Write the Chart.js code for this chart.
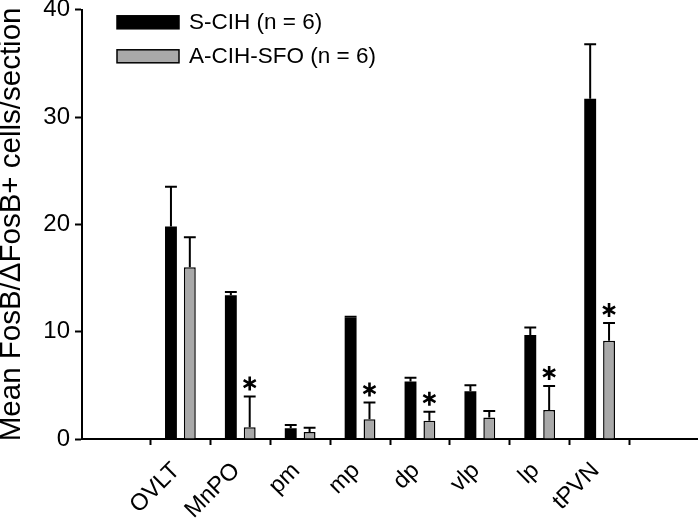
<!DOCTYPE html>
<html>
<head>
<meta charset="utf-8">
<script src="https://cdn.jsdelivr.net/npm/chart.js@4/dist/chart.umd.min.js"></script>
<style>
  html, body { margin: 0; padding: 0; background: #fff; }
  #wrap { width: 698px; height: 522px; }
</style>
</head>
<body>
<div id="wrap"><canvas id="chart"></canvas></div>
<script>
// values
const categories = ["OVLT", "MnPO", "pm", "mp", "dp", "vlp", "lp", "tPVN"];
const sCihMean = [19.8, 13.4, 1.0, 11.3, 5.35, 4.45, 9.7, 31.7];
const sCihSem = [3.7, 0.3, 0.3, 0.1, 0.35, 0.55, 0.7, 5.1];
const aCihMean = [16.0, 1.1, 0.65, 1.85, 1.7, 2.0, 2.7, 9.15];
const aCihSem = [2.8, 2.85, 0.4, 1.55, 0.85, 0.6, 2.25, 1.65];
const aCihSignificant = [false, true, false, true, true, false, true, true];
const yTicks = [0, 10, 20, 30, 40];

const FONT = "'Liberation Sans', Arial, sans-serif";

// six-spoke star above a bar's error cap
function drawStar(ctx, x, y, r) {
  ctx.beginPath();
  for (let k = 0; k < 3; k++) {
    const a = Math.PI / 2 + k * Math.PI / 3;
    ctx.moveTo(x + r * Math.cos(a), y + r * Math.sin(a));
    ctx.lineTo(x - r * Math.cos(a), y - r * Math.sin(a));
  }
  ctx.stroke();
}

// error bars + significance stars
const errorBars = {
  id: "errorBars",
  afterDatasetsDraw(chart) {
    const ctx = chart.ctx;
    const y = chart.scales.y;
    const sems = [sCihSem, aCihSem];
    ctx.save();
    ctx.strokeStyle = "#000";
    chart.data.datasets.forEach((ds, d) => {
      const meta = chart.getDatasetMeta(d);
      meta.data.forEach((bar, i) => {
        const top = y.getPixelForValue(ds.data[i].y + sems[d][i]);
        const half = bar.width / 2;
        ctx.lineWidth = 2;
        ctx.beginPath();
        ctx.moveTo(bar.x, bar.y);
        ctx.lineTo(bar.x, top);
        ctx.moveTo(bar.x - half, top);
        ctx.lineTo(bar.x + half, top);
        ctx.stroke();
        if (d === 1 && aCihSignificant[i]) {
          ctx.lineWidth = 2.6;
          drawStar(ctx, bar.x, top - 13, 7);
        }
      });
    });
    ctx.restore();
  }
};

// legend in the upper left of the plot
const boxLegend = {
  id: "boxLegend",
  afterDraw(chart) {
    const ctx = chart.ctx;
    const a = chart.chartArea;
    const x0 = a.left + 35;
    const rows = [
      { label: "S-CIH (n = 6)", fill: "#000", y: a.top + 6 },
      { label: "A-CIH-SFO (n = 6)", fill: "#a9a9a9", y: a.top + 40 }
    ];
    ctx.save();
    rows.forEach((r) => {
      ctx.fillStyle = r.fill;
      ctx.fillRect(x0, r.y, 62, 13);
      ctx.strokeStyle = "#000";
      ctx.lineWidth = 1.5;
      ctx.strokeRect(x0, r.y, 62, 13);
      ctx.fillStyle = "#000";
      ctx.font = "22.5px " + FONT;
      ctx.textBaseline = "middle";
      ctx.fillText(r.label, x0 + 72, r.y + 7);
    });
    ctx.restore();
  }
};

new Chart(document.getElementById("chart"), {
  type: "bar",
  data: {
    datasets: [
      {
        label: "S-CIH (n = 6)",
        data: sCihMean.map((v, i) => ({ x: i + 1, y: v })),
        backgroundColor: "#000",
        borderColor: "#000",
        borderWidth: 0
      },
      {
        label: "A-CIH-SFO (n = 6)",
        data: aCihMean.map((v, i) => ({ x: i + 1, y: v })),
        backgroundColor: "#a9a9a9",
        borderColor: "#000",
        borderWidth: 1.5,
        borderSkipped: "bottom"
      }
    ]
  },
  options: {
    responsive: true,
    maintainAspectRatio: false,
    animation: false,
    categoryPercentage: 0.63,
    barPercentage: 0.63,
    layout: { padding: 0 },
    plugins: {
      legend: { display: false },
      tooltip: { enabled: false }
    },
    scales: {
      x: {
        type: "linear",
        min: 0,
        max: 9,
        afterBuildTicks: (axis) => {
          axis.ticks = categories.map((c, i) => ({ value: i + 1 }));
        },
        afterFit: (axis) => { axis.height = 83; },
        ticks: {
          autoSkip: false,
          maxRotation: 45,
          minRotation: 45,
          color: "#000",
          font: { family: FONT, size: 23.5 },
          padding: 12,
          labelOffset: -4,
          callback: (v) => categories[v - 1] || ""
        },
        grid: {
          drawOnChartArea: false,
          drawTicks: true,
          tickLength: 6,
          tickWidth: 2,
          tickColor: "#000"
        },
        border: { display: true, color: "#000", width: 2 }
      },
      y: {
        min: 0,
        max: 40,
        afterBuildTicks: (axis) => {
          axis.ticks = yTicks.map((v) => ({ value: v }));
        },
        afterFit: (axis) => { axis.width = 82; },
        ticks: {
          color: "#000",
          font: { family: FONT, size: 24, lineHeight: 0.4 },
          padding: 5
        },
        grid: {
          drawOnChartArea: false,
          tickLength: 7,
          tickWidth: 2,
          tickColor: "#000"
        },
        border: { display: true, color: "#000", width: 2 },
        title: {
          display: true,
          text: "Mean FosB/\u0394FosB+ cells/section",
          color: "#000",
          font: { family: FONT, size: 29.5 },
          padding: { top: -6, bottom: 0 }
        }
      }
    }
  },
  plugins: [errorBars, boxLegend]
});
</script>
</body>
</html>
